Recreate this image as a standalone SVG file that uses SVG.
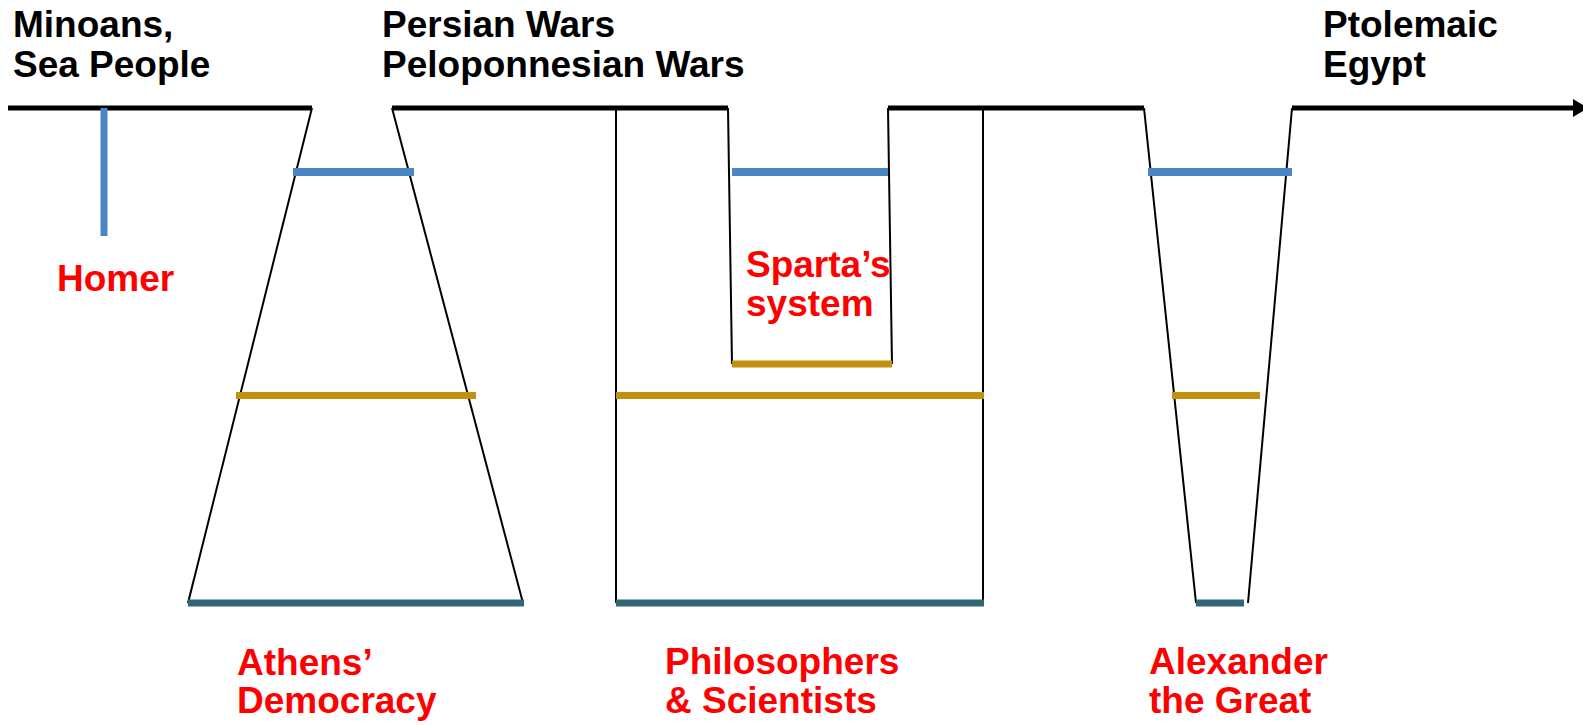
<svg xmlns="http://www.w3.org/2000/svg" width="1583" height="725" viewBox="0 0 1583 725">
<style>
.t{font-family:"Liberation Sans",Arial,sans-serif;font-weight:bold;font-size:37px}
.k{fill:#000}
.r{fill:#FF0000}
.tl{stroke:#000;stroke-width:5;fill:none}
.edge{stroke:#000;stroke-width:2;fill:none}
.blue{stroke:#4A86C4;stroke-width:8}
.gold{stroke:#C0900E;stroke-width:7}
.teal{stroke:#2F6874;stroke-width:7}
</style>
<rect width="1583" height="725" fill="#fff"/>
<g id="connectors">
<line class="tl" x1="8" y1="108" x2="312" y2="108"/>
<line class="tl" x1="392" y1="108" x2="728" y2="108"/>
<line class="tl" x1="888" y1="108" x2="1144" y2="108"/>
<line class="tl" x1="1292" y1="108" x2="1575" y2="108"/>
<polygon points="1573,99 1588,108 1573,117" fill="#000"/>
</g>
<g id="homer">
<line class="blue" x1="104" y1="108" x2="104" y2="236" style="stroke-width:7"/>
<text class="t r" x="57" y="291">Homer</text>
</g>
<g id="athens">
<polyline class="edge" points="188,603 312,108"/>
<polyline class="edge" points="392,108 523,603"/>
<line class="blue" x1="293" y1="172" x2="414" y2="172"/>
<line class="gold" x1="236" y1="395.5" x2="476" y2="395.5"/>
<line class="teal" x1="188" y1="603" x2="524" y2="603"/>
<text class="t r" x="237" y="675">Athens’</text>
<text class="t r" x="237" y="713">Democracy</text>
</g>
<g id="philosophers">
<line class="edge" x1="616" y1="108" x2="616" y2="603"/>
<line class="edge" x1="983" y1="108" x2="983" y2="603"/>
<line class="gold" x1="616" y1="395.5" x2="984" y2="395.5"/>
<line class="teal" x1="616" y1="603" x2="984" y2="603"/>
<text class="t r" x="665" y="674">Philosophers</text>
<text class="t r" x="665" y="713">&amp; Scientists</text>
</g>
<g id="sparta">
<line class="edge" x1="728" y1="108" x2="732" y2="364"/>
<line class="edge" x1="888" y1="108" x2="892" y2="364"/>
<line class="blue" x1="732" y1="172" x2="888" y2="172"/>
<line class="gold" x1="732" y1="364" x2="892" y2="364"/>
<text class="t r" x="746" y="277">Sparta’s</text>
<text class="t r" x="746" y="316">system</text>
</g>
<g id="alexander">
<polyline class="edge" points="1144,108 1196,603"/>
<polyline class="edge" points="1292,108 1248,603"/>
<line class="blue" x1="1148" y1="172" x2="1292" y2="172"/>
<line class="gold" x1="1172" y1="395.5" x2="1260" y2="395.5"/>
<line class="teal" x1="1196" y1="603" x2="1244" y2="603"/>
<text class="t r" x="1149" y="674">Alexander</text>
<text class="t r" x="1149" y="713">the Great</text>
</g>
<g id="labels-top">
<text class="t k" x="13" y="37">Minoans,</text>
<text class="t k" x="13" y="77">Sea People</text>
<text class="t k" x="382" y="37">Persian Wars</text>
<text class="t k" x="382" y="77">Peloponnesian Wars</text>
<text class="t k" x="1323" y="37">Ptolemaic</text>
<text class="t k" x="1323" y="77">Egypt</text>
</g>
</svg>
